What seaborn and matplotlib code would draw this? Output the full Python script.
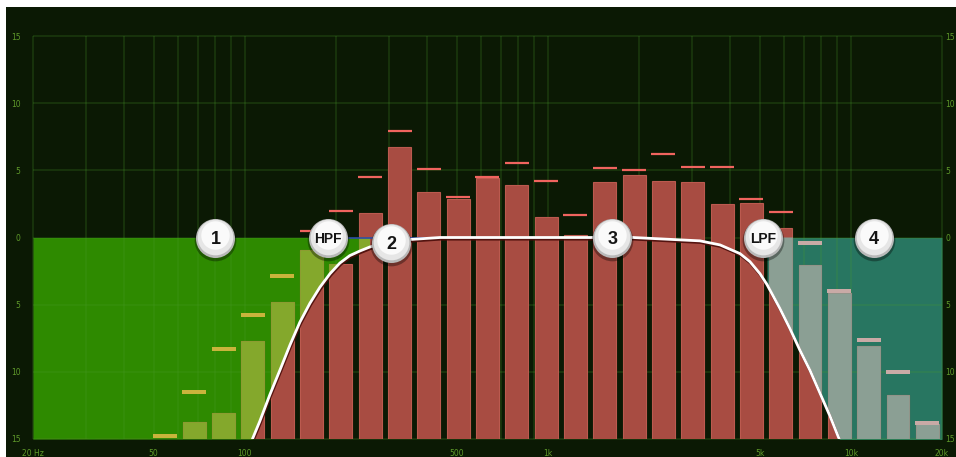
import numpy as np
import matplotlib
matplotlib.use("Agg")
import matplotlib.pyplot as plt
import matplotlib.patheffects as pe
from matplotlib.transforms import offset_copy
from matplotlib.ticker import NullLocator
import seaborn as sns

sns.set_theme(style="white")
plt.rcParams["font.family"] = ["DejaVu Sans"]

# 1/3 octave RTA bands, 20 Hz .. 20 kHz
bands = ["20", "25", "31.5", "40", "50", "63", "80", "100", "125", "160",
         "200", "250", "315", "400", "500", "630", "800", "1k", "1.25k", "1.6k",
         "2k", "2.5k", "3.15k", "4k", "5k", "6.3k", "8k", "10k", "12.5k", "16k", "20k"]
rta_db = [-20, -20, -20, -20, -16, -13.7, -13.1, -7.7, -4.8, -0.9,
          -2.0, 1.8, 6.7, 3.4, 2.9, 4.4, 3.9, 1.5, 0.2, 4.1,
          4.65, 4.2, 4.1, 2.5, 2.6, 0.7, -2.05, -4.1, -8.1, -11.7, -13.9]
peak_db = [-20, -20, -20, -20, -14.8, -11.5, -8.3, -5.8, -2.9, 0.5,
           2.0, 4.5, 7.9, 5.1, 3.0, 4.5, 5.55, 4.2, 1.7, 5.2,
           5.0, 6.2, 5.25, 5.25, 2.85, 1.9, -0.4, -4.0, -7.6, -10.0, -13.8]

# filter response (HPF ... LPF)
curve_hz = [106, 112, 121, 131, 141, 152, 164, 177, 191, 206, 222, 240, 259, 301, 351, 441,
            1910, 3178, 3700, 4309, 4648, 5017, 5290, 5840, 6302, 6799, 7337, 7916, 8541, 9078, 9571]
curve_db = [-15.0, -13.7, -11.7, -9.8, -8.0, -6.3, -4.9, -3.7, -2.7, -1.9, -1.35, -1.0, -0.7, -0.35, -0.15, 0,
            0, -0.25, -0.55, -1.2, -1.8, -2.7, -3.5, -5.3, -6.8, -8.4, -9.9, -11.6, -13.3, -14.8, -16.0]
# blue EQ line, only visible where the filter curve leaves 0 dB
eq_hz = [200, 460]
eq_db = [0, 0]

band1_end_hz = 259
band4_start_hz = 5290

badge_labels = ["1", "HPF", "2", "3", "LPF", "4"]
badge_hz = [80, 188, 304, 1635, 5133, 11900]
badge_db = [0, 0, -0.4, 0, 0, 0]

tick_hz = [20, 50, 100, 500, 1000, 5000, 10000, 20000]
tick_labels = ["20 Hz", "50", "100", "500", "1k", "5k", "10k", "20k"]

FLOOR, CEIL = -15, 15
BG = "#0b1904"
GREEN = "#2e8a00"
TEAL = "#287661"
RED = "#a84c42"
GREEN_BAR = "#84a82c"
TEAL_BAR = "#8b9f94"
PEAK_RED = "#f0645f"
PEAK_YEL = "#c9b43c"
PEAK_GREY = "#c9aaa6"
LABEL = "#5f9a2a"

W, H = 956, 457
fig = plt.figure(figsize=(W / 100, H / 100), dpi=100, facecolor="white")
bg = fig.add_axes([6 / W, 0, 950 / W, 450 / H], zorder=-1)
bg.set_facecolor(BG)
bg.set_xticks([])
bg.set_yticks([])
for s in bg.spines.values():
    s.set_visible(False)

ax = fig.add_axes([33 / W, (H - 439) / H, 909 / W, 403 / H])
ax.set_facecolor(BG)
ax.set_xscale("log")
ax.set_xlim(20, 20000)
ax.set_ylim(FLOOR, CEIL)

n = len(bands)
centers = 20 * 10 ** ((np.arange(n) + 0.5) * 3 / n)
heights = np.array(rta_db) - FLOOR
hz = np.array(curve_hz, dtype=float)
db = np.array(curve_db, dtype=float)

# attenuated zones of band 1 and band 4 (between the curve and 0 dB)
m1 = hz <= band1_end_hz
g = ax.fill_between(np.r_[20, hz[m1]], np.r_[FLOOR, db[m1]], 0, color=GREEN, lw=0, zorder=1)
m4 = hz >= band4_start_hz
t = ax.fill_between(np.r_[hz[m4], 20000], np.r_[db[m4], -16], 0, color=TEAL, lw=0, zorder=1)
zones = [(g, GREEN_BAR, PEAK_YEL), (t, TEAL_BAR, PEAK_GREY)]

# grid
grid_hz = [m * 10 ** e for e in range(1, 5) for m in range(1, 10) if 20 <= m * 10 ** e <= 20000]
ax.vlines(grid_hz, FLOOR, CEIL, color="#4a9a2a", lw=1.4, alpha=0.2, zorder=1.5, clip_on=False)
ax.hlines(range(FLOOR, CEIL + 1, 5), 20, 20000, color="#4a9a2a", lw=1.4, alpha=0.2, zorder=1.5, clip_on=False)

bar_kw = dict(x=centers, y=heights, bottom=FLOOR, orient="x", native_scale=True,
              log_scale=(True, False), width=0.78, saturation=1, errorbar=None, ax=ax)
sns.barplot(color=RED, edgecolor="#bb5a4f", linewidth=0.8, zorder=2, **bar_kw)
sns.scatterplot(x=centers, y=peak_db, marker="_", s=275, linewidth=1.6, color=PEAK_RED, ax=ax, zorder=3)

for zone, bar_col, peak_col in zones:
    path, trans = zone.get_paths()[0], zone.get_transform()
    sns.barplot(color=bar_col, edgecolor=bar_col, linewidth=0.5, zorder=2.1, **bar_kw)
    for p in ax.containers[-1]:
        p.set_clip_path(path, trans)
    sns.scatterplot(x=centers, y=peak_db, marker="_", s=275, linewidth=1.6, color=peak_col, ax=ax, zorder=3.1)
    ax.collections[-1].set_clip_path(path, trans)

sns.lineplot(x=eq_hz, y=eq_db, color="#2b4aa8", linewidth=1.3, alpha=0.9, ax=ax, zorder=3.5)
sns.lineplot(x=curve_hz, y=curve_db, color="white", linewidth=2.0, errorbar=None, sort=False, ax=ax, zorder=4)
ax.lines[-1].set_path_effects([pe.SimpleLineShadow(offset=(0.5, -1.2), shadow_color="#4a0d0a", alpha=0.9),
                               pe.Normal()])

# glossy badges
for dy, size, col, a in [(-2.5, 900, "#000000", 0.35), (0, 790, "#b9b9b9", 1),
                         (1.0, 660, "#e6e6e6", 1), (2.5, 420, "#fafafa", 1)]:
    tr = offset_copy(ax.transData, fig=fig, x=0, y=dy, units="dots")
    sns.scatterplot(x=badge_hz, y=badge_db, s=size, color=col, alpha=a, linewidth=0,
                    transform=tr, ax=ax, zorder=5)
for lab, f, d in zip(badge_labels, badge_hz, badge_db):
    ax.text(f, d, lab, ha="center", va="center_baseline", fontsize=13 if len(lab) == 1 else 10,
            fontweight="bold", family="Liberation Sans", color="#141414", zorder=9)

ax.set_xlim(20, 20000)
ax.set_ylim(FLOOR, CEIL)
ax.set_xlabel("")
ax.set_ylabel("")
ax.set_xticks(tick_hz)
ax.set_xticklabels(tick_labels)
ax.xaxis.set_minor_locator(NullLocator())
yt = list(range(FLOOR, CEIL + 1, 5))
ax.set_yticks(yt)
ax.set_yticklabels([str(abs(v)) for v in yt])
ax.tick_params(axis="x", length=0, pad=7, labelsize=5.5, labelcolor=LABEL)
ax.tick_params(axis="y", length=0, pad=9, labelsize=5.5, labelcolor=LABEL)
sec = ax.secondary_yaxis("right")
sec.set_yticks(yt)
sec.set_yticklabels([str(abs(v)) for v in yt])
sec.tick_params(length=0, pad=2.5, labelsize=5.5, labelcolor=LABEL)
for s in list(ax.spines.values()) + list(sec.spines.values()):
    s.set_visible(False)

fig.savefig("out.png", dpi=100, facecolor="white")
